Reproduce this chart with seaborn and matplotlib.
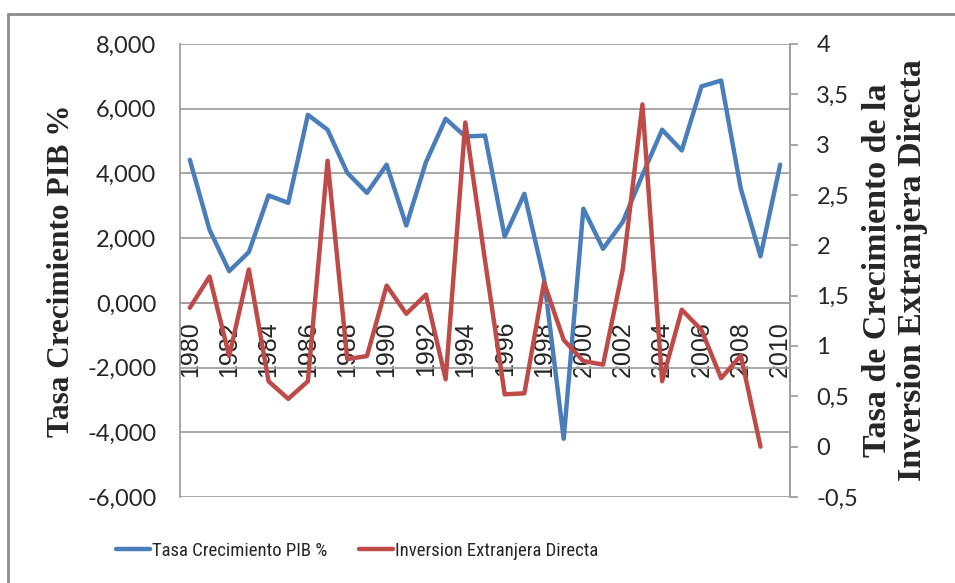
import numpy as np
import pandas as pd
import matplotlib
matplotlib.use("Agg")
import matplotlib.pyplot as plt
from matplotlib.patches import Rectangle
import seaborn as sns

# datos
years = list(range(1980, 2011))
pib = [4.42, 2.26, 0.98, 1.57, 3.32, 3.09, 5.81, 5.35, 4.02, 3.40,
       4.27, 2.39, 4.35, 5.69, 5.14, 5.17, 2.05, 3.37, 0.75, -4.20,
       2.91, 1.67, 2.50, 3.95, 5.35, 4.71, 6.69, 6.87, 3.53, 1.44, 4.27]
ied_years = years[:30]
ied = [1.38, 1.69, 0.90, 1.76, 0.65, 0.475, 0.65, 2.84, 0.87, 0.90,
       1.60, 1.32, 1.51, 0.67, 3.22, 1.85, 0.52, 0.53, 1.63, 1.06,
       0.85, 0.815, 1.76, 3.40, 0.65, 1.36, 1.16, 0.68, 0.905, 0.0]

left_ticks = [-6, -4, -2, 0, 2, 4, 6, 8]
left_labels = ["-6,000", "-4,000", "-2,000", "0,000", "2,000", "4,000", "6,000", "8,000"]
right_ticks = [-0.5, 0, 0.5, 1, 1.5, 2, 2.5, 3, 3.5, 4]
right_labels = ["-0,5", "0", "0,5", "1", "1,5", "2", "2,5", "3", "3,5", "4"]

serie_pib = "Tasa Crecimiento PIB %"
serie_ied = "Inversion Extranjera Directa"

sns.set_style("white")
plt.rcParams['font.family'] = ['Lato', 'DejaVu Sans']

gris = "#A0A0A0"
azul = "#4A7EBB"
rojo = "#BE4B48"
serif = ["Liberation Serif", "DejaVu Serif"]

fig, ax = plt.subplots(figsize=(9.55, 5.83), dpi=100)
fig.subplots_adjust(left=180/955, right=790/955, top=1-44/583, bottom=1-497/583)

df_pib = pd.DataFrame({"Año": years, "valor": pib})
df_ied = pd.DataFrame({"Año": ied_years, "valor": ied})

sns.lineplot(data=df_pib, x="Año", y="valor", ax=ax, color=azul, linewidth=3.2,
             label=serie_pib, solid_joinstyle="round", solid_capstyle="round")
ax2 = ax.twinx()
sns.lineplot(data=df_ied, x="Año", y="valor", ax=ax2, color=rojo, linewidth=3.2,
             label=serie_ied, solid_joinstyle="round", solid_capstyle="round")

h1, l1 = ax.get_legend_handles_labels()
h2, l2 = ax2.get_legend_handles_labels()
ax.get_legend().remove()
ax2.get_legend().remove()

# eje izquierdo
ax.set_xlim(1979.5, 2010.5)
ax.set_ylim(-6, 8)
ax.set_yticks(left_ticks)
ax.set_yticklabels(left_labels, fontsize=17)
ax.tick_params(axis="y", length=0, pad=17)
ax.grid(axis="y", color=gris, linewidth=1.3)
ax.grid(axis="x", visible=False)
ax.set_xlabel("")
ax.set_ylabel(serie_pib, family=serif, fontsize=22.5, fontweight="bold")
ax.yaxis.label.set_va("center")
ax.yaxis.set_label_coords(-0.195, 0.5)

ax.spines["bottom"].set_position(("data", 0))
ax.spines["top"].set_visible(False)
for s in ["left", "right", "bottom"]:
    ax.spines[s].set_color(gris)
    ax.spines[s].set_linewidth(1.3)
ax.set_xticks(years[::2])
ax.set_xticklabels([str(y) for y in years[::2]], rotation=90,
                   family=["Liberation Sans", "DejaVu Sans"], fontsize=18)
ax.tick_params(axis="x", length=0, pad=13)

# eje derecho
ax2.set_ylim(-0.5, 4)
ax2.set_yticks(right_ticks)
ax2.set_yticklabels(right_labels, fontsize=17)
ax2.tick_params(axis="y", length=6, width=1.3, color=gris, direction="out", pad=13)
ax2.grid(False)
for s in ["left", "top", "bottom"]:
    ax2.spines[s].set_visible(False)
ax2.spines["right"].set_color(gris)
ax2.spines["right"].set_linewidth(1.3)
ax2.set_ylabel("Tasa de Crecimiento de la\nInversion Extranjera Directa",
               family=serif, fontsize=24.5, fontweight="bold",
               rotation=90, linespacing=1.15)
ax2.yaxis.label.set_va("center")
ax2.yaxis.set_label_coords(1.172, 0.5)

fig.legend(h1 + h2, l1 + l2, loc="center", bbox_to_anchor=(357/955, 1-551/583),
           ncol=2, frameon=False, handlelength=1.8, handletextpad=0.1,
           columnspacing=1.7,
           prop={"family": ["Roboto Condensed", "Lato"], "size": 13.5})

fig.patches.append(Rectangle((8/955, -0.05), 1.0, (583-14)/583 + 0.05,
                             transform=fig.transFigure, fill=False,
                             edgecolor="#8C8C8C", linewidth=2))

fig.savefig("out.png", dpi=100)
